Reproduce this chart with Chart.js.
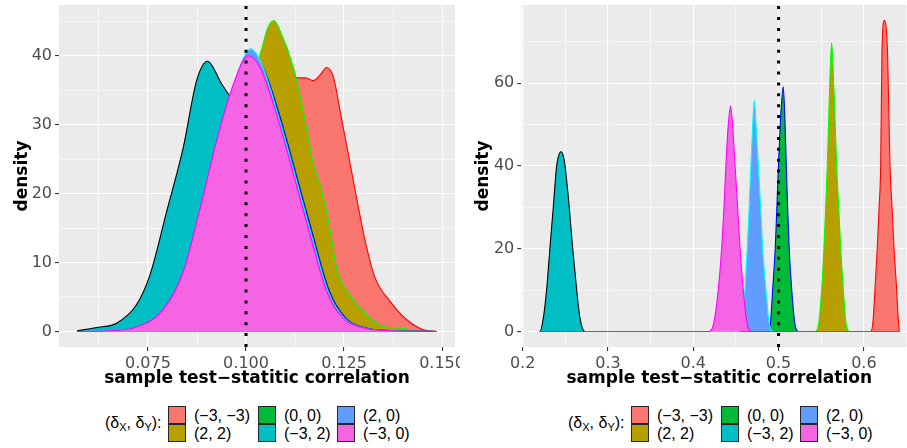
<!DOCTYPE html>
<html>
<head>
<meta charset="utf-8">
<script src="https://cdn.jsdelivr.net/npm/chart.js@4.4.1/dist/chart.umd.min.js"></script>
<style>
html, body { margin: 0; padding: 0; background: #fff; }
body { width: 907px; height: 448px; overflow: hidden; position: relative; font-family: "Liberation Sans", Arial, sans-serif; }
.fig { position: absolute; top: 0; height: 448px; overflow: hidden; }
#figL { left: 0; width: 460px; }
#figR { left: 460px; width: 470px; }
canvas { position: absolute; left: 0; top: 0; }
.ttl { position: absolute; top: 414px; white-space: nowrap; line-height: 18px; font-size: 16px; }
.ttl sub { font-size: 11px; vertical-align: -3px; line-height: 0; }
.key { position: absolute; width: 16px; height: 16px; border: 1px solid #262626; }
.lab { position: absolute; white-space: nowrap; line-height: 17px; font-size: 16px; }
</style>
</head>
<body>
<div class="fig" id="figL"><canvas id="cL" width="460" height="395"></canvas></div>
<div class="fig" id="figR"><canvas id="cR" width="470" height="395"></canvas></div>
<script>
// ===== DATA =====
const seriesNames = ['(\u22123, \u22123)', '(2, 2)', '(0, 0)', '(\u22123, 2)', '(2, 0)', '(\u22123, 0)'];
const fillColors = ['#F8766D', '#B79F00', '#00BA38', '#00BFC4', '#619CFF', '#F564E3'];
const edgeColors = ['#FF0000', '#00FF00', '#0000FF', '#000000', '#00FFFF', '#FF00FF'];

// left panel densities
const lx_m3m3 = [0.0569, 0.065, 0.07, 0.075, 0.08, 0.085, 0.09, 0.095, 0.1, 0.105, 0.109, 0.1129, 0.115, 0.1172, 0.119, 0.1206, 0.1223, 0.124, 0.1261, 0.1282, 0.1304, 0.1329, 0.1367, 0.141, 0.1452, 0.1487];
const ly_m3m3 = [0, 0.05, 0.3, 1.5, 5, 12, 21, 28, 32, 35, 36.3, 36.8, 36.8, 36.4, 37.3, 38.3, 36.9, 32, 25.7, 19.4, 13.1, 7.8, 4.4, 1.7, 0.25, 0];
const lx_22 = [0.0569, 0.065, 0.075, 0.085, 0.09, 0.095, 0.1, 0.102, 0.104, 0.1055, 0.1071, 0.109, 0.1121, 0.1146, 0.1172, 0.1193, 0.1214, 0.1231, 0.1265, 0.1308, 0.135, 0.1393, 0.143, 0.1487];
const ly_22 = [0, 0.1, 0.6, 7, 16, 26, 34, 37.5, 41, 44, 45.1, 43.2, 38.3, 32, 24.3, 20.4, 15, 9.2, 5.3, 2.4, 0.7, 0.5, 0.1, 0];
const lx_00 = [0.0569, 0.065, 0.0718, 0.0795, 0.0846, 0.0889, 0.0931, 0.0974, 0.1012, 0.1043, 0.1085, 0.1128, 0.117, 0.1213, 0.1255, 0.1307, 0.1377, 0.1487];
const ly_00 = [0, 0.1, 0.5, 3.0, 8.5, 17.6, 27.5, 35.8, 40.3, 38.4, 31.5, 22.8, 14.1, 5.8, 1.9, 0.5, 0.1, 0];
const lx_m32 = [0.0569, 0.0623, 0.067, 0.0721, 0.0755, 0.0798, 0.084, 0.0874, 0.0902, 0.0938, 0.0963, 0.1, 0.105, 0.11, 0.115, 0.12, 0.125, 0.13, 0.137, 0.1487];
const ly_m32 = [0.1, 0.6, 1.2, 3.9, 8.2, 17.5, 26.7, 36.4, 39.2, 35.9, 33.8, 31, 25, 17, 9, 4, 1.5, 0.5, 0.1, 0];
const lx_20 = [0.0569, 0.065, 0.0716, 0.0792, 0.0843, 0.0886, 0.0928, 0.0971, 0.1012, 0.104, 0.1081, 0.1124, 0.1166, 0.1209, 0.1251, 0.1303, 0.1373, 0.1487];
const ly_20 = [0, 0.1, 0.5, 3.1, 8.6, 17.8, 27.7, 36.2, 41.0, 38.8, 31.5, 22.8, 14.1, 5.8, 1.9, 0.5, 0.1, 0];
const lx_m30 = [0.0569, 0.065, 0.0713, 0.0789, 0.084, 0.0883, 0.0925, 0.0968, 0.1005, 0.1036, 0.1078, 0.1121, 0.1163, 0.1206, 0.1248, 0.13, 0.137, 0.1487];
const ly_m30 = [0, 0.1, 0.5, 3.2, 8.7, 17.9, 27.7, 35.9, 40.0, 38.3, 31.5, 22.8, 14.1, 5.8, 1.9, 0.5, 0.1, 0];

// right panel densities
const rx_m3m3 = [0.2195, 0.608, 0.6105, 0.613, 0.6157, 0.6178, 0.6197, 0.6212, 0.6239, 0.6278, 0.6306, 0.633, 0.6353, 0.6384, 0.64, 0.6415];
const ry_m3m3 = [0, 0, 2, 10.1, 20.2, 30, 40, 67.8, 75.1, 67, 40, 30, 20.2, 10.1, 4, 0];
const rx_22 = [0.2195, 0.543, 0.547, 0.5505, 0.5532, 0.5552, 0.5571, 0.5597, 0.5622, 0.565, 0.5681, 0.5705, 0.5728, 0.5759, 0.579, 0.583, 0.6415];
const ry_22 = [0, 0, 2, 10.1, 20.2, 30, 40, 58, 69.8, 58, 40, 30, 20.2, 10.1, 2, 0, 0];
const rx_00 = [0.2195, 0.488, 0.4905, 0.4931, 0.4961, 0.498, 0.4999, 0.5025, 0.5055, 0.5073, 0.509, 0.5106, 0.5124, 0.5154, 0.519, 0.5231, 0.6415];
const ry_00 = [0, 0, 2, 10.1, 20.2, 30, 40.4, 52, 59.1, 52, 40.4, 30, 20.2, 10.1, 2, 0, 0];
const rx_m32 = [0.2195, 0.2203, 0.2242, 0.2281, 0.232, 0.2359, 0.2398, 0.242, 0.2449, 0.2478, 0.2497, 0.2546, 0.2586, 0.2633, 0.2672, 0.273, 0.6415];
const ry_m32 = [0, 0, 3.2, 10.1, 20.2, 30, 40, 42.3, 43.4, 42.3, 40, 30, 20.2, 10.1, 3.2, 0, 0];
const rx_20 = [0.2195, 0.454, 0.4575, 0.4606, 0.4633, 0.4655, 0.4676, 0.4695, 0.4715, 0.4738, 0.4762, 0.479, 0.4813, 0.4852, 0.489, 0.494, 0.6415];
const ry_20 = [0, 0, 2, 10.1, 20.2, 30, 40.4, 49.3, 55.9, 49.3, 40.4, 30, 20.2, 10.1, 2, 0, 0];
const rx_m30 = [0.2195, 0.4176, 0.424, 0.4293, 0.4333, 0.436, 0.4383, 0.4405, 0.4438, 0.4465, 0.4489, 0.452, 0.4548, 0.4586, 0.463, 0.4684, 0.6415];
const ry_m30 = [0, 0, 2, 10.1, 20.2, 30, 40.4, 48.5, 54.5, 48.5, 40.4, 30, 20.2, 10.1, 2, 0, 0];

// axes
const leftXMajor = [0.075, 0.1, 0.125, 0.15], leftXMinor = [0.0625, 0.0875, 0.1125, 0.1375];
const leftYMajor = [0, 10, 20, 30, 40], leftYMinor = [5, 15, 25, 35, 45];
const rightXMajor = [0.2, 0.3, 0.4, 0.5, 0.6], rightXMinor = [0.25, 0.35, 0.45, 0.55, 0.65];
const rightYMajor = [0, 20, 40, 60], rightYMinor = [10, 30, 50, 70];
const leftXRange = [0.0523, 0.1533], leftYRange = [-2.26, 47.37];
const rightXRange = [0.1984, 0.6625], rightYRange = [-3.76, 78.86];
const leftRef = 0.1, rightRef = 0.5;

const xTitle = 'sample test\u2212statitic correlation';
const yTitle = 'density';

// ===== CHART =====
const panelBg = {
  id: 'panelBg',
  beforeDraw(c) {
    const a = c.chartArea, g = c.ctx;
    g.save(); g.fillStyle = '#EBEBEB'; g.fillRect(a.left, a.top, a.right - a.left, a.bottom - a.top); g.restore();
  }
};

function tickList(major, minor) {
  return major.map(v => ({ value: v, minor: false })).concat(minor.map(v => ({ value: v, minor: true }))).sort((a, b) => a.value - b.value);
}

// no label overhang padding, the panel fills its box exactly
function noPad(s) { s.paddingTop = 0; s.paddingBottom = 0; s.paddingLeft = 0; s.paddingRight = 0; }

function axis(range, major, minor, fmt, extra) {
  return Object.assign({
    type: 'linear', min: range[0], max: range[1],
    afterBuildTicks: s => { s.ticks = tickList(major, minor); },
    grid: {
      color: '#FFFFFF',
      lineWidth: c => (c.tick && c.tick.minor ? 0.55 : 1.1),
      tickColor: c => (c.tick && c.tick.minor ? 'rgba(0,0,0,0)' : '#333333'),
      tickWidth: 1.1, tickLength: 4
    },
    border: { display: false },
    ticks: {
      autoSkip: false, maxRotation: 0, minRotation: 0, color: '#4D4D4D',
      font: { family: 'DejaVu Sans', size: 16 },
      callback: (v, i, t) => (t[i].minor ? '' : fmt(v))
    }
  }, extra);
}

function makeChart(id, xs, ys, ref, xR, yR, xMaj, xMin, yMaj, yMin, xFmt, yWidth, padRight, yTitlePad) {
  const ds = seriesNames.map((n, i) => ({
    label: n,
    data: xs[i].map((x, j) => ({ x: x, y: ys[i][j] })),
    backgroundColor: fillColors[i], borderColor: edgeColors[i], borderWidth: 1.1,
    fill: 'origin', pointRadius: 0, cubicInterpolationMode: 'monotone'
  })).reverse();
  ds.unshift({
    label: 'ref', data: [{ x: ref, y: yR[0] }, { x: ref, y: yR[1] }],
    borderColor: '#000', borderWidth: 3, borderDash: [3, 7.9], borderCapStyle: 'butt',
    fill: false, pointRadius: 0
  });
  return new Chart(document.getElementById(id), {
    type: 'line',
    data: { datasets: ds },
    options: {
      responsive: false, animation: false, devicePixelRatio: 1,
      layout: { padding: { left: 0, top: 5, right: padRight, bottom: 0 } },
      plugins: { legend: { display: false }, tooltip: { enabled: false } },
      scales: {
        x: axis(xR, xMaj, xMin, xFmt, {
          afterFit: s => { s.height = 48; noPad(s); },
          title: { display: true, text: xTitle, color: '#000', font: { family: 'DejaVu Sans', size: 17, weight: 'bold' }, padding: { top: 0, bottom: 6 } }
        }),
        y: axis(yR, yMaj, yMin, v => String(v), {
          afterFit: s => { s.width = yWidth; noPad(s); },
          title: { display: true, text: yTitle, color: '#000', font: { family: 'DejaVu Sans', size: 17, weight: 'bold' }, padding: { top: yTitlePad, bottom: 0 } }
        })
      }
    },
    plugins: [panelBg]
  });
}

makeChart('cL',
  [lx_m3m3, lx_22, lx_00, lx_m32, lx_20, lx_m30], [ly_m3m3, ly_22, ly_00, ly_m32, ly_20, ly_m30],
  leftRef, leftXRange, leftYRange, leftXMajor, leftXMinor, leftYMajor, leftYMinor, v => v.toFixed(3), 59, 5, 12);
makeChart('cR',
  [rx_m3m3, rx_22, rx_00, rx_m32, rx_20, rx_m30], [ry_m3m3, ry_22, ry_00, ry_m32, ry_20, ry_m30],
  rightRef, rightXRange, rightYRange, rightXMajor, rightXMinor, rightYMajor, rightYMinor, v => v.toFixed(1), 61.3, 12.8, 13);

// ===== LEGEND =====
function buildLegend(figId, shift) {
  const fig = document.getElementById(figId);
  const t = document.createElement('div');
  t.className = 'ttl'; t.style.left = (105 + shift) + 'px';
  t.innerHTML = '(\u03B4<sub>X</sub>, \u03B4<sub>Y</sub>):';
  fig.appendChild(t);
  const keyX = [168, 258, 337];
  seriesNames.forEach((n, i) => {
    const col = Math.floor(i / 2), row = i % 2;
    const k = document.createElement('div');
    k.className = 'key'; k.style.background = fillColors[i];
    k.style.left = (keyX[col] + shift) + 'px'; k.style.top = (406 + row * 18) + 'px';
    fig.appendChild(k);
    const l = document.createElement('div');
    l.className = 'lab'; l.textContent = n;
    l.style.left = (keyX[col] + 26 + shift) + 'px'; l.style.top = (406.5 + row * 18) + 'px';
    fig.appendChild(l);
  });
}
buildLegend('figL', 0);
buildLegend('figR', 3);
</script>
</body>
</html>
